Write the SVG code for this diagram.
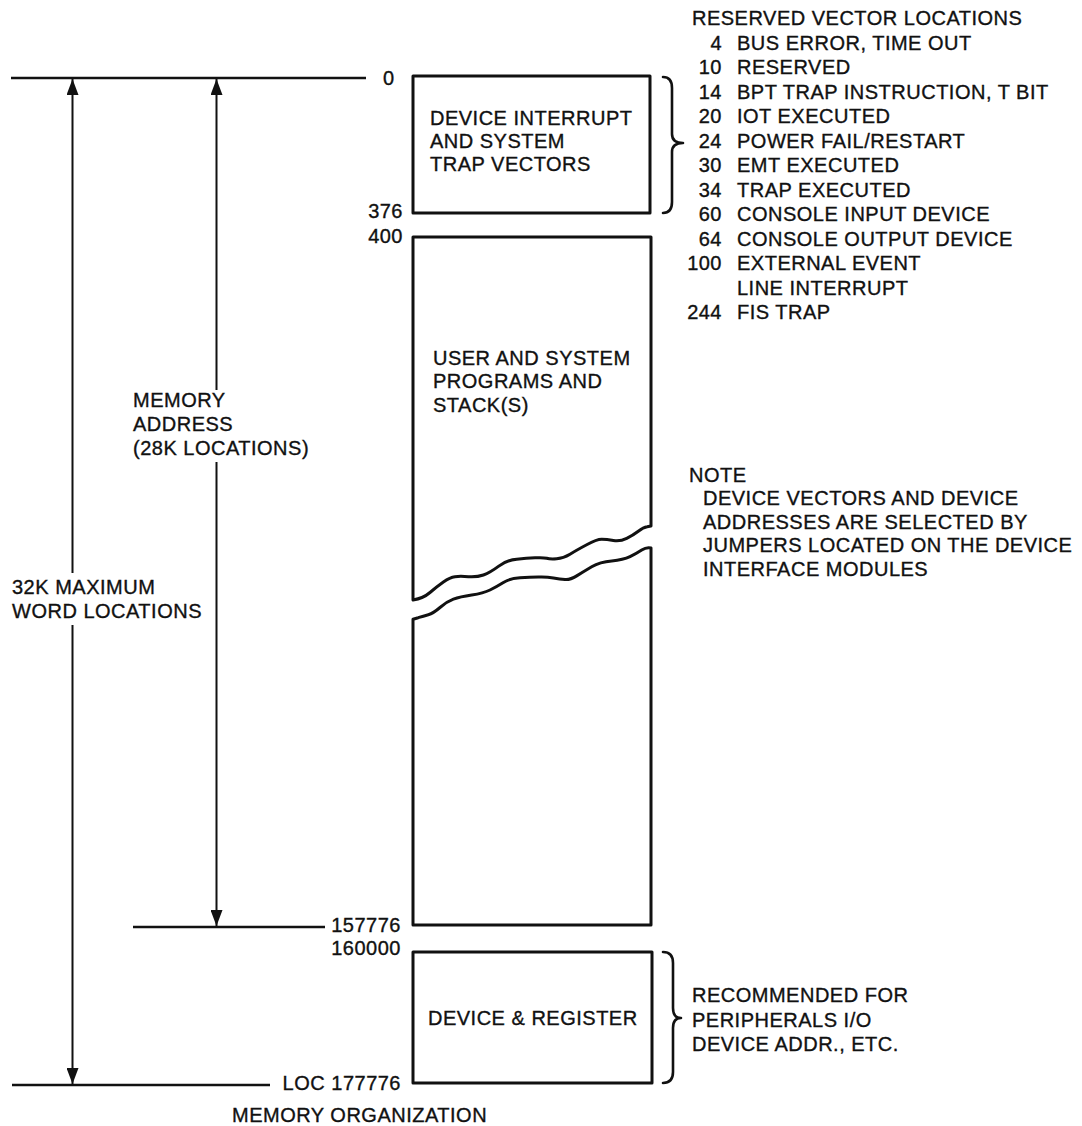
<svg xmlns="http://www.w3.org/2000/svg" width="1082" height="1126" viewBox="0 0 1082 1126">
<style>
text{font-family:"Liberation Sans",Arial,sans-serif;font-size:20px;letter-spacing:0.5px;fill:#111;stroke:#111;stroke-width:0.35}
.e{text-anchor:end}
.box{fill:none;stroke:#111;stroke-width:3;stroke-linejoin:round}
.ln{fill:none;stroke:#111;stroke-width:2.4}
.ar{fill:none;stroke:#111;stroke-width:2}
.br{fill:none;stroke:#111;stroke-width:2.6;stroke-linecap:round;stroke-linejoin:round}
</style>
<defs>
<marker id="ah" viewBox="0 0 16 12" markerWidth="16" markerHeight="12" refX="16" refY="6" orient="auto-start-reverse" markerUnits="userSpaceOnUse">
<path d="M0,0 L16,6 L0,12 Z" fill="#111"/>
</marker>
</defs>
<rect width="1082" height="1126" fill="#fff"/>

<g id="connectors">
<line class="ln" x1="11" y1="78" x2="366" y2="78"/>
<line class="ln" x1="133" y1="927" x2="325" y2="927"/>
<line class="ln" x1="12" y1="1085" x2="270" y2="1085"/>
<line class="ar" x1="72.5" y1="79" x2="72.5" y2="573" marker-start="url(#ah)"/>
<line class="ar" x1="72.5" y1="625" x2="72.5" y2="1084" marker-end="url(#ah)"/>
<line class="ar" x1="216.5" y1="79" x2="216.5" y2="390" marker-start="url(#ah)"/>
<line class="ar" x1="216.5" y1="462" x2="216.5" y2="926" marker-end="url(#ah)"/>
<path class="br" d="M663,77 Q672,77 672,88 L672,134 Q672,143 683,143 Q672,143 672,152 L672,202 Q672,213 663,213"/>
<path class="br" d="M663,952 Q673,952 673,963 L673,1008 Q673,1018 681,1018 Q673,1018 673,1028 L673,1072 Q673,1083 663,1083"/>
</g>

<g id="node-vectors">
<rect class="box" x="413" y="76" width="237" height="137"/>
<text x="430" y="125">DEVICE INTERRUPT</text>
<text x="430" y="148">AND SYSTEM</text>
<text x="430" y="171">TRAP VECTORS</text>
</g>

<g id="node-programs">
<path class="box" d="M413,600 L413,237 L651,237 L651,526 L647.2,526.7 Q643.3,527.3 638.3,531.2 Q633.3,535 626.7,538.4 Q620,541.7 613.4,540.5 Q606.7,539.3 601.7,539.3 Q596.7,539.3 586.7,544.7 Q576.7,550 570,554.2 Q563.3,558.3 556.7,558.8 Q550,559.3 546.7,558.3 Q543.3,557.3 535,557.8 Q526.7,558.3 516.7,559.2 Q506.7,560 498.4,566.4 Q490,572.7 483.4,575 Q476.7,577.3 468.4,576.7 Q460,576 455,576.7 Q450,577.3 443.4,582 Q436.7,586.7 430,592.5 Q423.3,598.3 413,600 Z"/>
<path class="box" d="M651,548 L651,925 L413,925 L413,619.3 L418.2,617.7 Q423.3,616 428.3,614.7 Q433.3,613.3 440,607.5 Q446.7,601.7 453.4,599.2 Q460,596.7 471.7,595 Q483.3,593.3 490,590 Q496.7,586.7 503.4,582.5 Q510,578.3 520,577.8 Q530,577.3 538.4,577 Q546.7,576.7 553.4,577.9 Q560,579 565,579.5 Q570,580 576.7,575.9 Q583.3,571.7 591.7,566.7 Q600,561.7 611.7,560.9 Q623.3,560 630,556.7 Q636.7,553.3 641.7,550 Q646.7,546.7 651,548 Z"/>
<text x="433" y="365">USER AND SYSTEM</text>
<text x="433" y="388">PROGRAMS AND</text>
<text x="433" y="412">STACK(S)</text>
</g>

<g id="node-device">
<rect class="box" x="413" y="952" width="239" height="131"/>
<text x="428" y="1025">DEVICE &amp; REGISTER</text>
</g>

<g id="address-labels">
<text x="383" y="85">0</text>
<text class="e" x="403" y="218">376</text>
<text class="e" x="403" y="243">400</text>
<text class="e" x="401" y="932">157776</text>
<text class="e" x="401" y="955">160000</text>
<text class="e" x="401" y="1090">LOC 177776</text>
</g>

<g id="dimension-labels">
<text x="133" y="407">MEMORY</text>
<text x="133" y="431">ADDRESS</text>
<text x="133" y="455">(28K LOCATIONS)</text>
<text x="12" y="594">32K MAXIMUM</text>
<text x="12" y="618">WORD LOCATIONS</text>
</g>

<g id="vector-list">
<text x="692" y="25">RESERVED VECTOR LOCATIONS</text>
<text class="e" x="722" y="49.5">4</text><text x="737" y="49.5">BUS ERROR, TIME OUT</text>
<text class="e" x="722" y="74">10</text><text x="737" y="74">RESERVED</text>
<text class="e" x="722" y="98.5">14</text><text x="737" y="98.5">BPT TRAP INSTRUCTION, T BIT</text>
<text class="e" x="722" y="123">20</text><text x="737" y="123">IOT EXECUTED</text>
<text class="e" x="722" y="147.5">24</text><text x="737" y="147.5">POWER FAIL/RESTART</text>
<text class="e" x="722" y="172">30</text><text x="737" y="172">EMT EXECUTED</text>
<text class="e" x="722" y="196.5">34</text><text x="737" y="196.5">TRAP EXECUTED</text>
<text class="e" x="722" y="221">60</text><text x="737" y="221">CONSOLE INPUT DEVICE</text>
<text class="e" x="722" y="245.5">64</text><text x="737" y="245.5">CONSOLE OUTPUT DEVICE</text>
<text class="e" x="722" y="270">100</text><text x="737" y="270">EXTERNAL EVENT</text>
<text x="737" y="294.5">LINE INTERRUPT</text>
<text class="e" x="722" y="319">244</text><text x="737" y="319">FIS TRAP</text>
</g>

<g id="note">
<text x="689" y="482">NOTE</text>
<text x="703" y="505">DEVICE VECTORS AND DEVICE</text>
<text x="703" y="528.5">ADDRESSES ARE SELECTED BY</text>
<text x="703" y="552">JUMPERS LOCATED ON THE DEVICE</text>
<text x="703" y="575.5">INTERFACE MODULES</text>
</g>

<g id="peripheral-note">
<text x="692" y="1002">RECOMMENDED FOR</text>
<text x="692" y="1027">PERIPHERALS I/O</text>
<text x="692" y="1051">DEVICE ADDR., ETC.</text>
</g>

<text x="232" y="1122">MEMORY ORGANIZATION</text>
</svg>
